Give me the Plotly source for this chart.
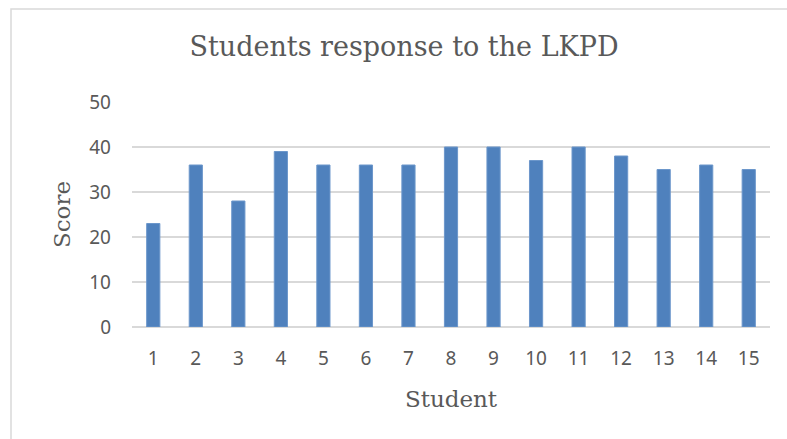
import plotly.graph_objects as go

students = [str(i) for i in range(1, 16)]
scores = [23, 36, 28, 39, 36, 36, 36, 40, 40, 37, 40, 38, 35, 36, 35]
y_ticks = [0, 10, 20, 30, 40, 50]

W, H = 787, 439
L, R, T, B = 132, 770, 102, 327

fig = go.Figure(go.Bar(
    x=students, y=scores, width=0.31,
    marker=dict(color="#4F81BD", line=dict(color="#6C97CB", width=1)),
))

px2x = lambda p: (p - L) / (R - L)
px2y = lambda p: (B - p) / (B - T)

fig.update_layout(
    width=W, height=H,
    margin=dict(l=L, r=W - R, t=T, b=H - B),
    paper_bgcolor="white", plot_bgcolor="white",
    showlegend=False,
    title=dict(text="Students response to the LKPD", x=404 / W, xanchor="center",
               xref="container", yref="container", y=1 - 47 / H, yanchor="middle",
               font=dict(family="DejaVu Serif", size=27, color="#595959")),
    xaxis=dict(showgrid=False, showline=False, ticks="", ticklabelstandoff=18,
               tickfont=dict(family="Noto Sans", size=19, color="#595959"),
               title=dict(text="Student", standoff=20,
                          font=dict(family="DejaVu Serif", size=23, color="#595959"))),
    yaxis=dict(range=[0, 50], tickvals=y_ticks, showgrid=True, gridcolor="#D9D9D9", gridwidth=1.5,
               zeroline=True, zerolinecolor="#D9D9D9", zerolinewidth=1.5, showline=False,
               ticks="", ticklabelstandoff=20,
               tickfont=dict(family="Noto Sans", size=19, color="#595959"),
               title=dict(text="Score", standoff=12,
                          font=dict(family="DejaVu Serif", size=23, color="#595959"))),
    shapes=[dict(type="rect", xref="paper", yref="paper",
                 x0=px2x(11), x1=px2x(900), y0=px2y(600), y1=px2y(9),
                 line=dict(color="#D9D9D9", width=1.5), fillcolor="rgba(0,0,0,0)", layer="below")],
)

fig.write_html("out.html")
